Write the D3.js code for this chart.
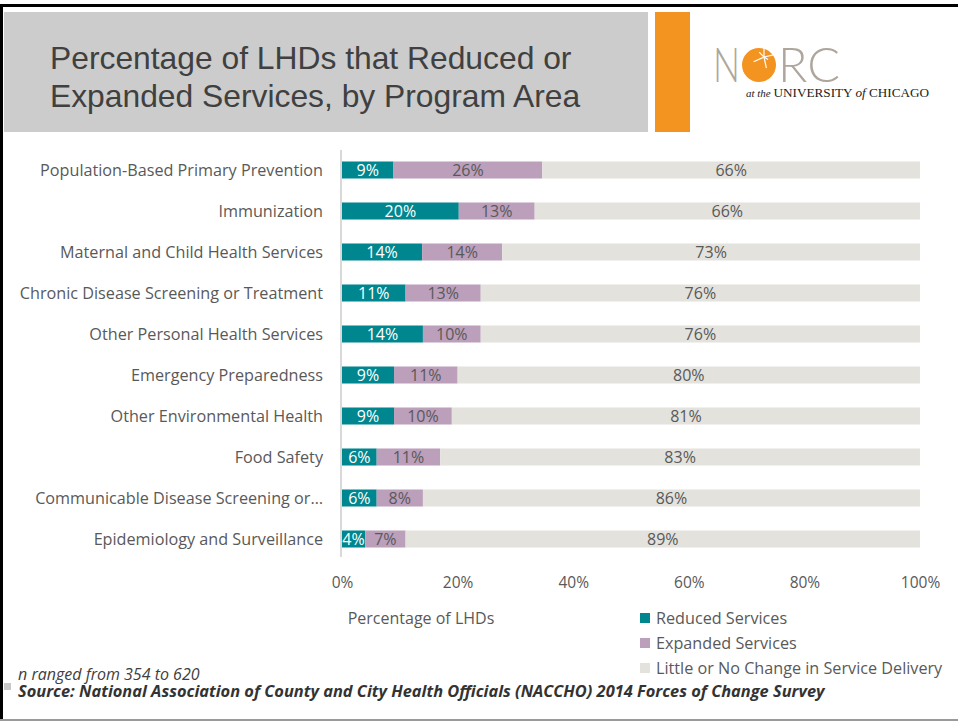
<!DOCTYPE html>
<html>
<head>
<meta charset="utf-8">
<script src="https://cdn.jsdelivr.net/npm/d3@7"></script>
<style>
  body { margin: 0; background: #fff; }
  svg { display: block; }
  text { font-family: "Open Sans", sans-serif; }
</style>
</head>
<body>
<svg id="chart" width="958" height="722"></svg>
<script>
// program areas, top to bottom
var categories = [
  'Population-Based Primary Prevention',
  'Immunization',
  'Maternal and Child Health Services',
  'Chronic Disease Screening or Treatment',
  'Other Personal Health Services',
  'Emergency Preparedness',
  'Other Environmental Health',
  'Food Safety',
  'Communicable Disease Screening or\u2026',
  'Epidemiology and Surveillance'
];
var reduced  = [9, 20, 14, 11, 14, 9, 9, 6, 6, 4];
var expanded = [26, 13, 14, 13, 10, 11, 10, 11, 8, 7];
var noChange = [66, 66, 73, 76, 76, 80, 81, 83, 86, 89];
var xTicks = [0, 0.2, 0.4, 0.6, 0.8, 1];
var seriesNames = ['Reduced Services', 'Expanded Services', 'Little or No Change in Service Delivery'];

var keys = ['reduced', 'expanded', 'noChange'];
var colors = { reduced: '#00868f', expanded: '#bb9fbb', noChange: '#e3e2dd' };
var labelColors = { reduced: '#ffffff', expanded: '#595959', noChange: '#595959' };

var svg = d3.select('#chart');

// frame
svg.append('rect').attr('x', 0).attr('y', 4).attr('width', 958).attr('height', 3).attr('fill', '#000');
svg.append('rect').attr('x', 0).attr('y', 4).attr('width', 3).attr('height', 716).attr('fill', '#000');
svg.append('rect').attr('x', 0).attr('y', 719).attr('width', 958).attr('height', 2).attr('fill', '#9a9a9a');

// title block
svg.append('rect').attr('x', 4).attr('y', 12).attr('width', 644).attr('height', 120).attr('fill', '#cccccc');
svg.append('rect').attr('x', 655).attr('y', 12).attr('width', 35).attr('height', 120).attr('fill', '#f39320');
['Percentage of LHDs that Reduced or', 'Expanded Services, by Program Area'].forEach(function(t, i) {
  svg.append('text')
    .attr('x', 50).attr('y', 69 + i * 38)
    .style('font-family', '"Liberation Sans", Arial, sans-serif')
    .style('font-size', '31.8px')
    .attr('fill', '#404040')
    .text(t);
});

// logo
var logo = svg.append('g');
logo.append('text').attr('x', 713).attr('y', 82)
  .attr('textLength', 27).attr('lengthAdjust', 'spacingAndGlyphs')
  .style('font-family', 'Lato, sans-serif').style('font-weight', 300).style('font-size', '48px')
  .attr('fill', '#aea69c').text('N');
logo.append('circle').attr('cx', 759).attr('cy', 65).attr('r', 17).attr('fill', '#f39320');
var star = [[0, -14], [5, 3], [-13, 6], [3, 14], [13, -3], [-6, -6]];
star.forEach(function(p) {
  logo.append('line')
    .attr('x1', 764).attr('y1', 57)
    .attr('x2', 764 + p[0] * 0.8).attr('y2', 57 + p[1] * 0.8)
    .attr('stroke', '#fff').attr('stroke-width', 1.2);
});
logo.append('text').attr('x', 778).attr('y', 82)
  .attr('textLength', 62).attr('lengthAdjust', 'spacingAndGlyphs')
  .style('font-family', 'Lato, sans-serif').style('font-weight', 300).style('font-size', '48px')
  .attr('fill', '#aea69c').text('RC');
var sub = logo.append('text').attr('x', 746).attr('y', 97)
  .style('font-family', '"Liberation Serif", serif').style('font-size', '13.2px')
  .attr('fill', '#222');
sub.append('tspan').style('font-style', 'italic').style('font-size', '11px').text('at the ');
sub.append('tspan').text('UNIVERSITY ');
sub.append('tspan').style('font-style', 'italic').text('of ');
sub.append('tspan').text('CHICAGO');

// scales
var x = d3.scaleLinear().domain([0, 1]).range([342, 920]);
var y = d3.scaleBand().domain(categories).range([149.5, 559.5]).paddingInner(0.585).paddingOuter(0.2925);

var rows = categories.map(function(c, i) {
  return { cat: c, reduced: reduced[i], expanded: expanded[i], noChange: noChange[i] };
});
// rounded shares do not always sum to 100, so normalise each row
var stacked = d3.stack().keys(keys).offset(d3.stackOffsetExpand)(rows);

// axis line
svg.append('line')
  .attr('x1', 341).attr('x2', 341).attr('y1', 150).attr('y2', 557)
  .attr('stroke', '#d9d9d9').attr('stroke-width', 2);

var layers = svg.selectAll('g.layer')
  .data(stacked)
  .enter().append('g')
  .attr('class', 'layer')
  .attr('fill', function(d) { return colors[d.key]; });

layers.selectAll('rect')
  .data(function(d) { return d; })
  .enter().append('rect')
  .attr('x', function(d) { return x(d[0]); })
  .attr('y', function(d) { return y(d.data.cat); })
  .attr('width', function(d) { return x(d[1]) - x(d[0]); })
  .attr('height', y.bandwidth());

layers.each(function(layer) {
  d3.select(this).selectAll('text')
    .data(layer)
    .enter().append('text')
    .attr('x', function(d) { return (x(d[0]) + x(d[1])) / 2; })
    .attr('y', function(d) { return y(d.data.cat) + y.bandwidth() / 2; })
    .attr('dy', '0.36em')
    .attr('text-anchor', 'middle')
    .style('font-size', '16px')
    .attr('fill', labelColors[layer.key])
    .text(function(d) { return d.data[layer.key] + '%'; });
});

// category labels
svg.selectAll('text.cat')
  .data(categories)
  .enter().append('text')
  .attr('class', 'cat')
  .attr('x', 323)
  .attr('y', function(d) { return y(d) + y.bandwidth() / 2; })
  .attr('dy', '0.36em')
  .attr('text-anchor', 'end')
  .style('font-size', '16.2px')
  .attr('fill', '#595959')
  .text(function(d) { return d; });

// x axis
var xAxis = svg.append('g')
  .attr('transform', 'translate(0,574)')
  .call(d3.axisBottom(x).tickValues(xTicks).tickSize(0).tickFormat(d3.format('.0%')));
xAxis.select('.domain').remove();
xAxis.selectAll('text')
  .style('font-family', '"Open Sans", sans-serif')
  .style('font-size', '15.5px')
  .attr('fill', '#595959');

svg.append('text')
  .attr('x', 421).attr('y', 624)
  .attr('text-anchor', 'middle')
  .style('font-size', '16px')
  .attr('fill', '#595959')
  .text('Percentage of LHDs');

// legend
var legend = svg.selectAll('g.legend')
  .data(keys)
  .enter().append('g')
  .attr('class', 'legend')
  .attr('transform', function(d, i) { return 'translate(640,' + (618 + i * 25) + ')'; });
legend.append('rect')
  .attr('x', 0).attr('y', -5).attr('width', 10).attr('height', 10)
  .attr('fill', function(d) { return colors[d]; });
legend.append('text')
  .attr('x', 16).attr('dy', '0.36em')
  .style('font-size', '16.2px')
  .attr('fill', '#595959')
  .text(function(d, i) { return seriesNames[i]; });

// notes
svg.append('rect').attr('x', 4).attr('y', 683).attr('width', 7).attr('height', 7).attr('fill', '#c8c8c8');
svg.append('text')
  .attr('x', 18).attr('y', 680)
  .style('font-size', '16px').style('font-style', 'italic')
  .attr('fill', '#404040')
  .text('n ranged from 354 to 620');
svg.append('text')
  .attr('x', 18).attr('y', 697)
  .style('font-size', '16.4px').style('font-style', 'italic').style('font-weight', 'bold')
  .attr('fill', '#333')
  .text('Source: National Association of County and City Health Officials (NACCHO) 2014 Forces of Change Survey');
</script>
</body>
</html>
